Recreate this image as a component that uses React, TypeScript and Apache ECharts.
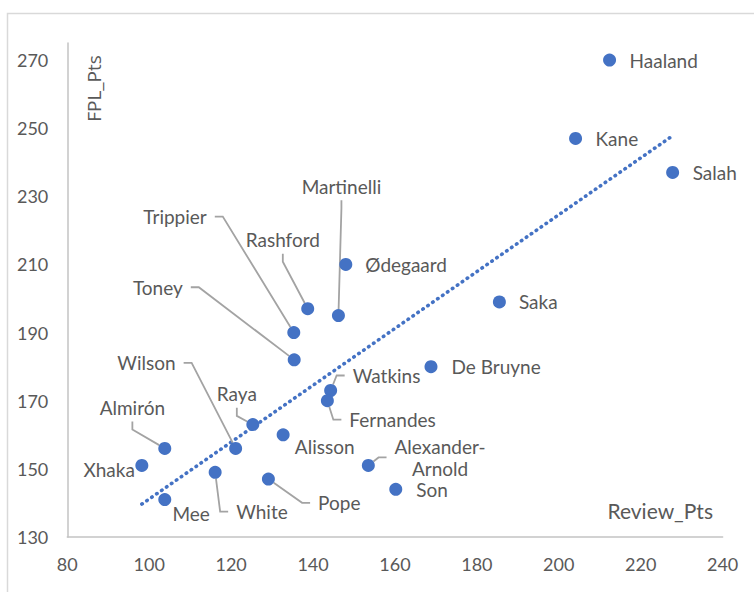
import React, { useEffect, useRef } from "react";
import * as echarts from "echarts";

const players = [
  "Haaland", "Kane", "Salah", "Ødegaard", "Saka", "Rashford", "Martinelli", "Trippier",
  "Toney", "De Bruyne", "Watkins", "Fernandes", "Raya", "Alisson", "Almirón", "Wilson",
  "Xhaka", "Alexander-Arnold", "White", "Pope", "Son", "Mee",
];
const reviewPts = [
  212.4, 204.1, 227.8, 148, 185.5, 138.7, 146.2, 135.3,
  135.4, 168.8, 144.3, 143.5, 125.3, 132.7, 103.8, 121.1,
  98.2, 153.5, 116.1, 129.1, 160.2, 103.8,
];
const fplPts = [
  270, 247, 237, 210, 199, 197, 195, 190,
  182, 180, 173, 170, 163, 160, 156, 156,
  151, 151, 149, 147, 144, 141,
];
const xTicks = { min: 80, max: 240, step: 20 };
const yTicks = { min: 130, max: 275, step: 20 };

// label placement (pixels relative to the point centre)
type Lay = { dx: number; dy: number; align: "left" | "right" | "center" };
const plainLayout: Record<string, Lay> = {
  Haaland: { dx: 20, dy: 0, align: "left" },
  Kane: { dx: 20, dy: 0, align: "left" },
  Salah: { dx: 20, dy: 0, align: "left" },
  "Ødegaard": { dx: 19.5, dy: 0, align: "left" },
  Saka: { dx: 19.5, dy: 0, align: "left" },
  "De Bruyne": { dx: 20.5, dy: 0, align: "left" },
  Son: { dx: 20.5, dy: 0.5, align: "left" },
  Alisson: { dx: 11.7, dy: 11.7, align: "left" },
  Mee: { dx: 7.6, dy: 14, align: "left" },
  Xhaka: { dx: -7, dy: 4.3, align: "right" },
};
const leaderLayout: Record<string, Lay> = {
  White: { dx: 13, dy: 39.4, align: "left" },
  Pope: { dx: 41.7, dy: 23.7, align: "left" },
  Fernandes: { dx: 14, dy: 19, align: "left" },
  Watkins: { dx: 14, dy: -15, align: "left" },
  "Alexander-Arnold": { dx: 71.7, dy: -8, align: "center" },
  Raya: { dx: 12, dy: -30.7, align: "right" },
  "Almirón": { dx: 8.3, dy: -41, align: "right" },
  Wilson: { dx: -52, dy: -85.6, align: "right" },
  Toney: { dx: -103.4, dy: -72.6, align: "right" },
  Trippier: { dx: -79, dy: -116, align: "right" },
  Rashford: { dx: -24.9, dy: -69, align: "center" },
  Martinelli: { dx: 3, dy: -129.3, align: "center" },
};

const BLUE = "#4472C4";
const TEXT = "#595959";
const LABEL_FONT = "Lato, 'Open Sans', sans-serif";

export default function App() {
  const ref = useRef<HTMLDivElement>(null);
  useEffect(() => {
    if (!ref.current) return;
    const chart = echarts.init(ref.current, undefined, { renderer: "svg" });

    const all = players.map((name, i) => ({ name, value: [reviewPts[i], fplPts[i]] }));
    const plainData = all.filter((d) => !leaderLayout[d.name]);
    const leaderData = all.filter((d) => !!leaderLayout[d.name]);

    // least-squares trendline
    const n = reviewPts.length;
    let sx = 0, sy = 0, sxx = 0, sxy = 0;
    for (let i = 0; i < n; i++) {
      sx += reviewPts[i]; sy += fplPts[i];
      sxx += reviewPts[i] * reviewPts[i]; sxy += reviewPts[i] * fplPts[i];
    }
    const slope = (n * sxy - sx * sy) / (n * sxx - sx * sx);
    const icpt = (sy - slope * sx) / n;
    const xMin = Math.min(...reviewPts);
    const xMax = Math.max(...reviewPts);
    const trend = [[xMin, icpt + slope * xMin], [xMax, icpt + slope * xMax]];

    const makeLayout = (data: { name: string }[], table: Record<string, Lay>) => (p: any) => {
      const d = data[p.dataIndex];
      const o = table[d.name];
      const cx = p.rect.x + p.rect.width / 2;
      const cy = p.rect.y + p.rect.height / 2;
      return { x: cx + o.dx, y: cy + o.dy, align: o.align, verticalAlign: "middle" };
    };

    const labelBase = {
      show: true,
      position: "inside",
      color: TEXT,
      fontSize: 19,
      fontFamily: LABEL_FONT,
      lineHeight: 22,
      formatter: (p: any) => (p.name === "Alexander-Arnold" ? "Alexander-\nArnold" : p.name),
    };

    chart.setOption({
      animation: false,
      backgroundColor: "#ffffff",
      grid: { left: 67.3, right: 31.4, top: 43, bottom: 55, containLabel: false },
      xAxis: {
        type: "value",
        min: xTicks.min,
        max: xTicks.max,
        interval: xTicks.step,
        axisLine: { show: true, lineStyle: { color: "#c3c3c3", width: 1.5 } },
        axisTick: { show: false },
        splitLine: { show: false },
        axisLabel: { color: TEXT, fontSize: 18, fontFamily: LABEL_FONT, margin: 18 },
      },
      yAxis: {
        type: "value",
        min: yTicks.min,
        max: yTicks.max,
        interval: yTicks.step,
        axisLine: { show: true, lineStyle: { color: "#c3c3c3", width: 1.5 } },
        axisTick: { show: false },
        splitLine: { show: false },
        axisLabel: {
          color: TEXT,
          fontSize: 18,
          fontFamily: LABEL_FONT,
          margin: 19,
          showMaxLabel: false,
          formatter: (v: number) => (v > 270 ? "" : String(v)),
        },
      },
      graphic: [
        {
          type: "rect",
          shape: { x: 7.5, y: 13.5, width: 800, height: 700 },
          style: { fill: "none", stroke: "#d9d9d9", lineWidth: 1.5 },
          silent: true,
          z: -10,
        },
        {
          type: "text",
          x: 94,
          y: 88.5,
          rotation: Math.PI / 2,
          style: {
            text: "FPL_Pts",
            fill: TEXT,
            font: "19px 'Open Sans', sans-serif",
            align: "center",
            verticalAlign: "middle",
          },
          silent: true,
        },
        {
          type: "text",
          x: 713,
          y: 510,
          style: {
            text: "Review_Pts",
            fill: TEXT,
            font: "21px Lato, 'Open Sans', sans-serif",
            align: "right",
            verticalAlign: "middle",
          },
          silent: true,
        },
      ],
      series: [
        {
          type: "line",
          data: trend,
          symbol: "none",
          silent: true,
          lineStyle: { color: BLUE, width: 3.6, type: [0.5, 5.5], cap: "round" },
          z: 1,
        },
        {
          type: "scatter",
          data: plainData,
          symbolSize: 13,
          itemStyle: { color: BLUE, opacity: 1 },
          silent: true,
          label: labelBase,
          labelLayout: makeLayout(plainData, plainLayout),
          z: 3,
        },
        {
          type: "scatter",
          data: leaderData,
          symbolSize: 13,
          itemStyle: { color: BLUE, opacity: 1 },
          silent: true,
          label: { ...labelBase, padding: [3, 8, 3, 8] },
          labelLine: {
            show: true,
            length2: 8,
            minTurnAngle: 0,
            lineStyle: { color: "#a3a3a3", width: 1.8 },
          },
          labelLayout: makeLayout(leaderData, leaderLayout),
          z: 3,
        },
      ],
    });
    return () => chart.dispose();
  }, []);
  return (
    <div
      ref={ref}
      style={{ position: "fixed", left: 0, top: 0, width: 754, height: 592, background: "#fff" }}
    />
  );
}
